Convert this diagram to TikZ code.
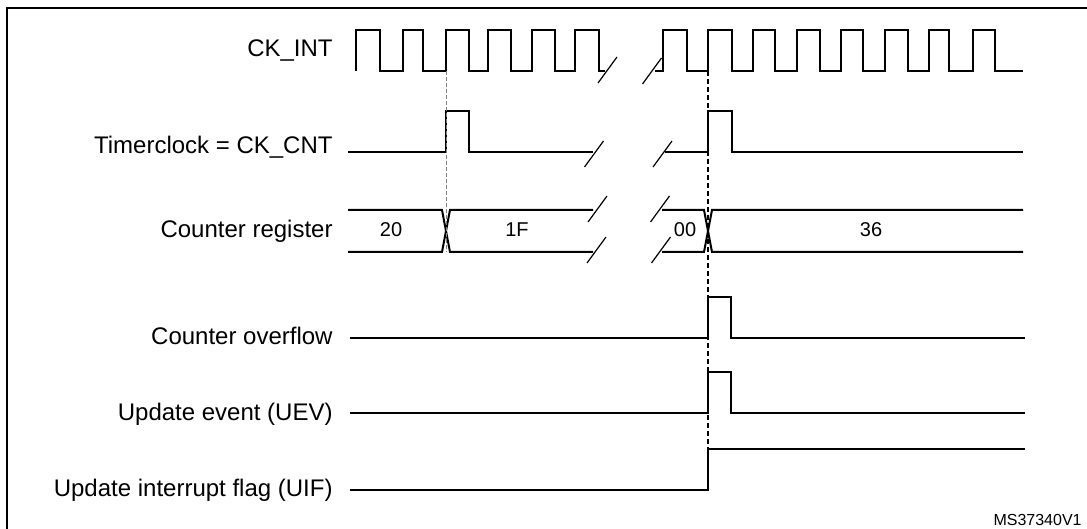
\documentclass[tikz,border=0pt]{standalone}
\usepackage{fontspec}
\setmainfont{Liberation Sans}
\begin{document}
\begin{tikzpicture}[x=.5pt,y=-.5pt,
    sig/.style={line width=1pt},
    cut/.style={line width=.6pt},
    lbl/.style={anchor=base east,inner sep=0pt,font=\fontsize{12}{14}\selectfont},
    val/.style={anchor=base,inner sep=0pt,font=\fontsize{10}{12}\selectfont}]
  \useasboundingbox (0,0) rectangle (1087,529);
  \draw[line width=1.2pt] (7,529) -- (7,8) -- (1087,8);

  \node[lbl] (ckint) at (333,57) {CK\_INT};
  \node[lbl] (tclk) at (333,154) {Timerclock = CK\_CNT};
  \node[lbl] (cntreg) at (333,238) {Counter register};
  \node[lbl] (ovf) at (333,344) {Counter overflow};
  \node[lbl] (uev) at (333,420) {Update event (UEV)};
  \node[lbl] (uif) at (333,496) {Update interrupt flag (UIF)};

  % CK_INT
  \draw[sig] (356,71) \foreach \r/\f in {356/380,403/423,446/469,488/511,532/555,575/599}{
      -- (\r,71) -- (\r,30) -- (\f,30) -- (\f,71)} -- (605,71);
  \draw[sig] (655,71) \foreach \r/\f in {663/687,708/732,753/775,797/820,841/863,885/908,929/949,973/995}{
      -- (\r,71) -- (\r,30) -- (\f,30) -- (\f,71)} -- (1023,71);

  % timer clock
  \draw[sig] (348,152) -- (446,152) -- (446,111) -- (469,111) -- (469,152) -- (593,152);
  \draw[sig] (665,152) -- (708,152) -- (708,111) -- (732,111) -- (732,152) -- (1023,152);

  % counter register
  \draw[sig] (348,210) -- (442,210) -- (450,252) -- (593,252);
  \draw[sig] (348,252) -- (442,252) -- (450,210) -- (593,210);
  \draw[sig] (662,210) -- (704,210) -- (712,252) -- (1023,252);
  \draw[sig] (662,252) -- (704,252) -- (712,210) -- (1023,210);
  \node[val] (v20) at (391,237) {20};
  \node[val] (v1f) at (517,237) {1F};
  \node[val] (v00) at (685,237) {00};
  \node[val] (v36) at (871,237) {36};

  \foreach \x/\y in {607.5/70,594/154,597.5/209,596.5/250,652/71,662.5/154,660/209,661/250}{
    \draw[cut] ({\x-9.5},{\y+13}) -- ({\x+9.5},{\y-13});
  }

  % overflow, UEV, UIF
  \draw[sig] (350,338) -- (708,338) -- (708,297) -- (731,297) -- (731,338) -- (1025,338);
  \draw[sig] (350,413) -- (708,413) -- (708,372) -- (731,372) -- (731,413) -- (1025,413);
  \draw[sig] (350,490) -- (708,490) -- (708,449) -- (1025,449);

  \draw[gray,line width=.5pt,dash pattern=on 2pt off 1pt] (446,71) -- (446,252);
  \draw[line width=.6pt,dash pattern=on 2.5pt off 1.5pt] (708,71) -- (708,449);

  \node[anchor=base east,inner sep=0pt,font=\fontsize{8}{10}\selectfont] (ref) at (1082,525) {MS37340V1};
\end{tikzpicture}
\end{document}
